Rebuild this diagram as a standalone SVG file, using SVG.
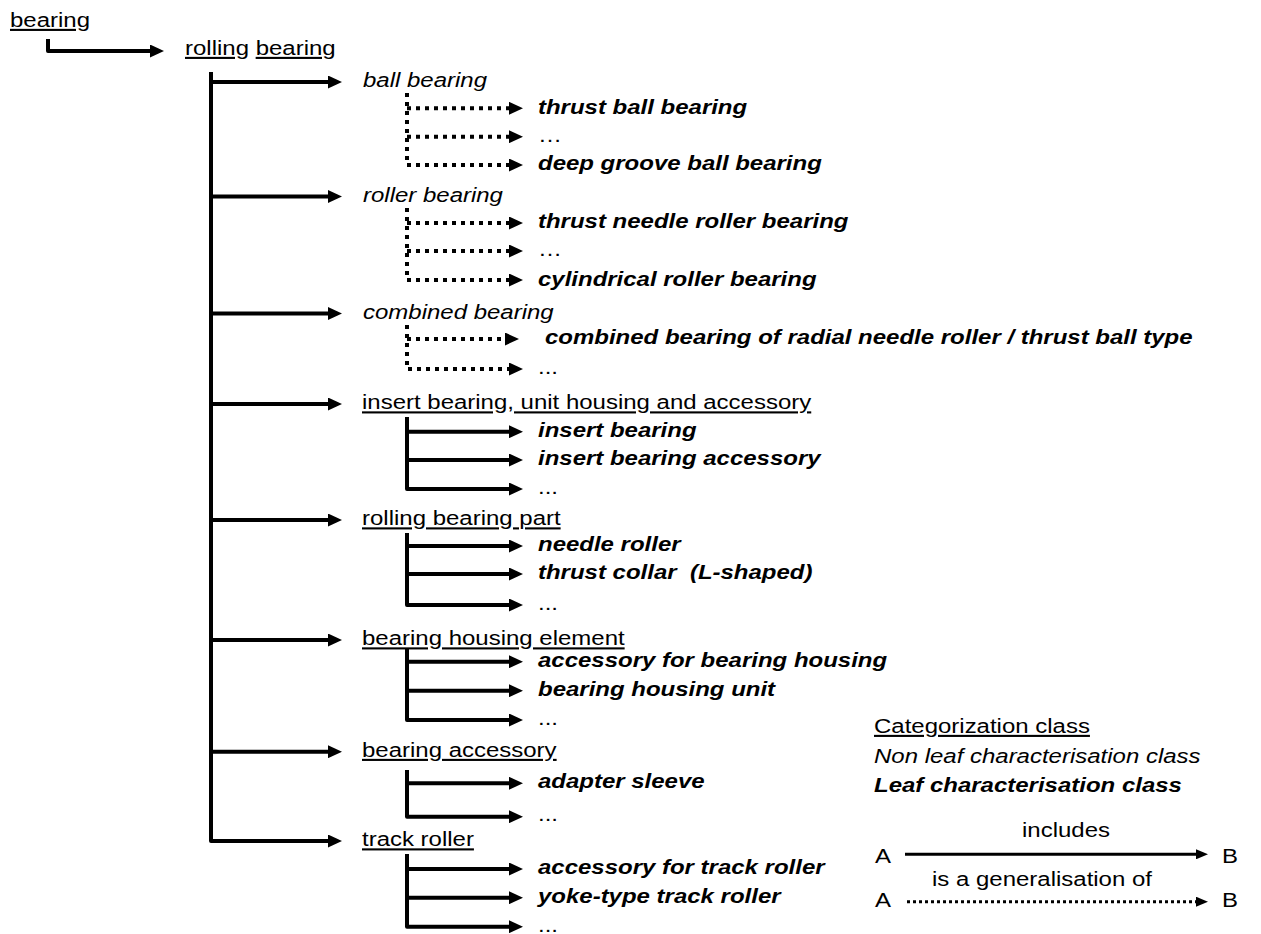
<svg xmlns="http://www.w3.org/2000/svg" width="1261" height="934" viewBox="0 0 1261 934">
<style>
text{font-family:"Liberation Sans",Arial,Helvetica,sans-serif;font-size:24px;fill:#000}
.cat{text-decoration:underline;text-decoration-skip-ink:none}
.nl{font-style:italic}
.leaf{font-style:italic;font-weight:bold}
.pre{white-space:pre}
.s{fill:none;stroke:#000;stroke-width:4;stroke-linejoin:round}
.d{fill:none;stroke:#000;stroke-width:4;stroke-dasharray:4 5}
.ls{fill:none;stroke:#000;stroke-width:3}
.ld{fill:none;stroke:#000;stroke-width:3;stroke-dasharray:3 3}
</style>
<defs>
<marker id="ah" markerUnits="userSpaceOnUse" markerWidth="14" markerHeight="13" refX="0" refY="6.5" orient="auto"><path d="M0,0 L14,6.5 L0,13 z" fill="#000"/></marker>
<marker id="ahs" markerUnits="userSpaceOnUse" markerWidth="12" markerHeight="10" refX="0" refY="5" orient="auto"><path d="M0,0 L12,5 L0,10 z" fill="#000"/></marker>
</defs>
<g id="connectors">
<path class="s" d="M48,39 V51 H150" marker-end="url(#ah)"/>
<path class="s" d="M211,72 V841 H328" marker-end="url(#ah)"/>
<path class="s" d="M211,82 H328" marker-end="url(#ah)"/>
<path class="s" d="M211,196.5 H328" marker-end="url(#ah)"/>
<path class="s" d="M211,313.5 H328" marker-end="url(#ah)"/>
<path class="s" d="M211,404 H328" marker-end="url(#ah)"/>
<path class="s" d="M211,520 H328" marker-end="url(#ah)"/>
<path class="s" d="M211,640 H328" marker-end="url(#ah)"/>
<path class="s" d="M211,751.7 H328" marker-end="url(#ah)"/>
<path class="d" d="M407,93 V165 H509" marker-end="url(#ah)"/>
<path class="d" d="M407,108.3 H509" marker-end="url(#ah)"/>
<path class="d" d="M407,136.7 H509" marker-end="url(#ah)"/>
<path class="d" d="M407,208 V280 H509" marker-end="url(#ah)"/>
<path class="d" d="M407,223 H509" marker-end="url(#ah)"/>
<path class="d" d="M407,251 H509" marker-end="url(#ah)"/>
<path class="d" d="M407,325 V369 H509" marker-end="url(#ah)"/>
<path class="d" d="M407,339 H505" marker-end="url(#ah)"/>
<path class="s" d="M407,417 V489 H509" marker-end="url(#ah)"/>
<path class="s" d="M407,431.7 H509" marker-end="url(#ah)"/>
<path class="s" d="M407,460 H509" marker-end="url(#ah)"/>
<path class="s" d="M407,533 V605 H509" marker-end="url(#ah)"/>
<path class="s" d="M407,546 H509" marker-end="url(#ah)"/>
<path class="s" d="M407,574 H509" marker-end="url(#ah)"/>
<path class="s" d="M407,648 V720 H509" marker-end="url(#ah)"/>
<path class="s" d="M407,661.7 H509" marker-end="url(#ah)"/>
<path class="s" d="M407,690.7 H509" marker-end="url(#ah)"/>
<path class="s" d="M407,770 V816.7 H509" marker-end="url(#ah)"/>
<path class="s" d="M407,783.3 H509" marker-end="url(#ah)"/>
<path class="s" d="M407,854 V926.7 H509" marker-end="url(#ah)"/>
<path class="s" d="M407,869 H509" marker-end="url(#ah)"/>
<path class="s" d="M407,897.7 H509" marker-end="url(#ah)"/>
</g>
<g id="n-bearing"><text class="cat" x="10" y="27" transform="matrix(1,0,0,0.875,0,3.375)">bearing</text></g>
<g id="n-rolling-bearing"><text x="185" y="55" transform="matrix(1,0,0,0.875,0,6.875)"><tspan class="cat">rolling</tspan> <tspan class="cat">bearing</tspan></text></g>
<g id="n-ball-bearing"><text class="nl" x="363" y="87" transform="matrix(1,0,0,0.875,0,10.875)">ball bearing</text></g>
<g id="n-thrust-ball-bearing"><text class="leaf" x="538" y="113.5" transform="matrix(1,0,0,0.875,0,14.19)">thrust ball bearing</text></g>
<g id="n-ball-more"><text x="538" y="142" transform="matrix(1,0,0,0.875,0,17.75)">…</text></g>
<g id="n-deep-groove"><text class="leaf" x="538" y="170.5" transform="matrix(1,0,0,0.875,0,21.31)">deep groove ball bearing</text></g>
<g id="n-roller-bearing"><text class="nl" x="363" y="202" transform="matrix(1,0,0,0.875,0,25.25)">roller bearing</text></g>
<g id="n-thrust-needle"><text class="leaf" x="538" y="228.5" transform="matrix(1,0,0,0.875,0,28.56)">thrust needle roller bearing</text></g>
<g id="n-roller-more"><text x="538" y="256.5" transform="matrix(1,0,0,0.875,0,32.06)">…</text></g>
<g id="n-cylindrical"><text class="leaf" x="538" y="285.5" transform="matrix(1,0,0,0.875,0,35.69)">cylindrical roller bearing</text></g>
<g id="n-combined-bearing"><text class="nl" x="363" y="319" transform="matrix(1,0,0,0.875,0,39.875)">combined bearing</text></g>
<g id="n-combined-radial"><text class="leaf" x="545" y="344.5" transform="matrix(1,0,0,0.875,0,43.06)">combined bearing of radial needle roller / thrust ball type</text></g>
<g id="n-combined-more"><text x="538" y="374.5" transform="matrix(1,0,0,0.875,0,46.81)">...</text></g>
<g id="n-insert-group"><text class="cat" x="362" y="409.5" transform="matrix(1,0,0,0.875,0,51.19)">insert bearing, unit housing and accessory</text></g>
<g id="n-insert-bearing"><text class="leaf" x="538" y="437" transform="matrix(1,0,0,0.875,0,54.625)">insert bearing</text></g>
<g id="n-insert-accessory"><text class="leaf" x="538" y="465.5" transform="matrix(1,0,0,0.875,0,58.19)">insert bearing accessory</text></g>
<g id="n-insert-more"><text x="538" y="494" transform="matrix(1,0,0,0.875,0,61.75)">...</text></g>
<g id="n-part"><text class="cat" x="362" y="525.5" transform="matrix(1,0,0,0.875,0,65.69)">rolling bearing part</text></g>
<g id="n-needle-roller"><text class="leaf" x="538" y="551.5" transform="matrix(1,0,0,0.875,0,68.94)">needle roller</text></g>
<g id="n-thrust-collar"><text class="leaf pre" x="538" y="579.5" transform="matrix(1,0,0,0.875,0,72.44)">thrust collar  (L-shaped)</text></g>
<g id="n-part-more"><text x="538" y="610" transform="matrix(1,0,0,0.875,0,76.25)">...</text></g>
<g id="n-housing"><text class="cat" x="362" y="645.5" transform="matrix(1,0,0,0.875,0,80.69)">bearing housing element</text></g>
<g id="n-housing-accessory"><text class="leaf" x="538" y="667" transform="matrix(1,0,0,0.875,0,83.375)">accessory for bearing housing</text></g>
<g id="n-housing-unit"><text class="leaf" x="538" y="696" transform="matrix(1,0,0,0.875,0,87)">bearing housing unit</text></g>
<g id="n-housing-more"><text x="538" y="725" transform="matrix(1,0,0,0.875,0,90.625)">...</text></g>
<g id="n-accessory"><text class="cat" x="362" y="757" transform="matrix(1,0,0,0.875,0,94.625)">bearing accessory</text></g>
<g id="n-adapter-sleeve"><text class="leaf" x="538" y="788.5" transform="matrix(1,0,0,0.875,0,98.56)">adapter sleeve</text></g>
<g id="n-accessory-more"><text x="538" y="821.5" transform="matrix(1,0,0,0.875,0,102.69)">...</text></g>
<g id="n-track-roller"><text class="cat" x="362" y="846.5" transform="matrix(1,0,0,0.875,0,105.81)">track roller</text></g>
<g id="n-track-accessory"><text class="leaf" x="538" y="874.5" transform="matrix(1,0,0,0.875,0,109.31)">accessory for track roller</text></g>
<g id="n-yoke"><text class="leaf" x="538" y="903" transform="matrix(1,0,0,0.875,0,112.875)">yoke-type track roller</text></g>
<g id="n-track-more"><text x="538" y="931.5" transform="matrix(1,0,0,0.875,0,116.44)">...</text></g>
<g id="legend">
<text class="cat" x="874" y="733" transform="matrix(1,0,0,0.875,0,91.625)">Categorization class</text>
<text class="nl" x="874" y="763" transform="matrix(1,0,0,0.875,0,95.375)">Non leaf characterisation class</text>
<text class="leaf" x="874" y="792" transform="matrix(1,0,0,0.875,0,99)">Leaf characterisation class</text>
<text x="1022" y="837" transform="matrix(1,0,0,0.875,0,104.625)">includes</text>
<text x="875" y="863" transform="matrix(1,0,0,0.875,0,107.875)">A</text>
<path class="ls" d="M905,854.3 H1196" marker-end="url(#ahs)"/>
<text x="1222" y="863" transform="matrix(1,0,0,0.875,0,107.875)">B</text>
<text x="932" y="886" transform="matrix(1,0,0,0.875,0,110.75)">is a generalisation of</text>
<text x="875" y="907" transform="matrix(1,0,0,0.875,0,113.375)">A</text>
<path class="ld" d="M907,901.7 H1196" marker-end="url(#ahs)"/>
<text x="1222" y="907" transform="matrix(1,0,0,0.875,0,113.375)">B</text>
</g>
</svg>
